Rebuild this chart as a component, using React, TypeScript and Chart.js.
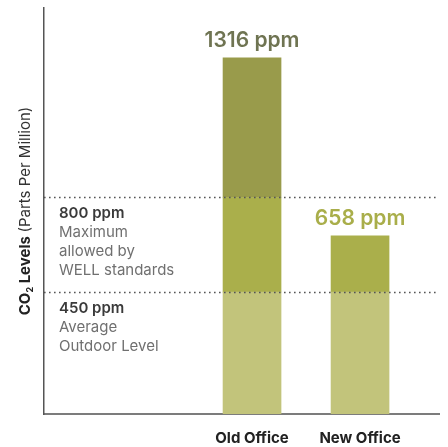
import React, { useEffect, useRef } from 'react';
import { Chart, registerables } from 'chart.js';

Chart.register(...registerables);

// ---- data ----
const categories = ['Old Office', 'New Office'];
const categoryPositions = [1, 2];
const co2Values = [1316, 658];
const valueLabels = ['1316 ppm', '658 ppm'];
const valueLabelColors = ['#6f7452', '#a9ae4a'];
const bandEdges = [0, 450, 800, Infinity];
const bandColors = ['#c2c47b', '#aaaf4b', '#999b4b'];
const thresholdValues = [450, 800];
const thresholdTitles = ['450 ppm', '800 ppm'];
const thresholdNotes = [
  ['Average', 'Outdoor Level'],
  ['Maximum', 'allowed by', 'WELL standards'],
];
const yMin = 0;
const yMax = 1500;

const FONT = 'Inter, "Open Sans", sans-serif';

const buildDatasets = () =>
  bandColors.map((color, b) => {
    const lo = bandEdges[b];
    const hi = bandEdges[b + 1];
    const data: any[] = [];
    co2Values.forEach((v, i) => {
      if (v > lo) data.push({ x: categoryPositions[i], y: [lo, Math.min(v, hi)] });
    });
    return {
      label: 'band' + b,
      data,
      backgroundColor: color,
      borderWidth: 0,
      barThickness: 58,
      grouped: false,
    };
  });

const overlayPlugin = {
  id: 'overlay',
  afterDatasetsDraw(chart: any) {
    const { ctx, chartArea, scales } = chart;
    const xs = scales.x;
    const ys = scales.y;
    ctx.save();
    // threshold dotted lines + notes
    thresholdValues.forEach((t, k) => {
      const y = Math.round(ys.getPixelForValue(t)) + 0.5;
      ctx.beginPath();
      ctx.setLineDash([1.6, 3.4]);
      ctx.lineWidth = 1.6;
      ctx.strokeStyle = '#555';
      ctx.moveTo(chartArea.left, y);
      ctx.lineTo(chartArea.right, y);
      ctx.stroke();
      ctx.setLineDash([]);
      const tx = chartArea.left + 15;
      ctx.textAlign = 'left';
      ctx.textBaseline = 'alphabetic';
      ctx.fillStyle = '#3a3a3a';
      ctx.font = `600 15px ${FONT}`;
      let by = y + 20;
      ctx.fillText(thresholdTitles[k], tx, by);
      ctx.font = `400 15px ${FONT}`;
      ctx.fillStyle = '#707070';
      thresholdNotes[k].forEach((line) => {
        by += 19.3;
        ctx.fillText(line, tx, by);
      });
    });
    // value labels
    co2Values.forEach((v, i) => {
      const x = xs.getPixelForValue(categoryPositions[i]);
      const y = ys.getPixelForValue(v) - 11;
      ctx.font = `600 21px ${FONT}`;
      ctx.fillStyle = valueLabelColors[i];
      ctx.textAlign = 'center';
      ctx.textBaseline = 'alphabetic';
      ctx.fillText(valueLabels[i], x, y);
    });
    // y title
    const cy = (chartArea.top + chartArea.bottom) / 2;
    const parts = [
      { t: 'CO', f: `700 15px ${FONT}`, c: '#222', dy: 0 },
      { t: '2', f: `700 9px ${FONT}`, c: '#222', dy: 3 },
      { t: ' Levels ', f: `700 15px ${FONT}`, c: '#222', dy: 0 },
      { t: '(Parts Per Million)', f: `400 15px ${FONT}`, c: '#333', dy: 0 },
    ];
    let total = 0;
    parts.forEach((p) => {
      ctx.font = p.f;
      total += ctx.measureText(p.t).width;
    });
    ctx.translate(30, cy);
    ctx.rotate(-Math.PI / 2);
    let px = -total / 2;
    ctx.textAlign = 'left';
    ctx.textBaseline = 'alphabetic';
    parts.forEach((p) => {
      ctx.font = p.f;
      ctx.fillStyle = p.c;
      ctx.fillText(p.t, px, p.dy);
      px += ctx.measureText(p.t).width;
    });
    ctx.restore();
  },
};

export default function App() {
  const ref = useRef<HTMLCanvasElement>(null);
  useEffect(() => {
    document.body.style.margin = '0';
    const canvas = ref.current!;
    const chart = new Chart(canvas, {
      type: 'bar',
      data: { datasets: buildDatasets() as any },
      options: {
        animation: false,
        responsive: false,
        devicePixelRatio: 1,
        layout: { padding: { top: 8, right: 9, left: 0, bottom: 0 } },
        plugins: { legend: { display: false }, tooltip: { enabled: false } },
        scales: {
          x: {
            type: 'linear',
            offset: false,
            min: -0.926,
            max: 2.731,
            grid: { display: false, drawTicks: false, tickLength: 0, offset: false },
            border: { color: '#7c7c7c', width: 2 },
            afterBuildTicks: (s: any) => {
              s.ticks = categoryPositions.map((v) => ({ value: v }));
            },
            afterFit: (s: any) => {
              s.height = 33;
            },
            ticks: {
              padding: 15,
              color: '#222',
              font: { family: FONT, size: 15, weight: 'bold' },
              callback: (v: any) => categories[categoryPositions.indexOf(Number(v))] ?? '',
              autoSkip: false,
              maxRotation: 0,
            },
          },
          y: {
            min: yMin,
            max: yMax,
            grid: { display: false, drawTicks: false, tickLength: 0 },
            border: { color: '#555', width: 1.5 },
            ticks: { display: false },
            afterFit: (s: any) => {
              s.width = 44;
            },
          },
        },
      } as any,
      plugins: [overlayPlugin],
    });
    return () => chart.destroy();
  }, []);
  return <canvas ref={ref} width={448} height={447} style={{ display: 'block' }} />;
}
